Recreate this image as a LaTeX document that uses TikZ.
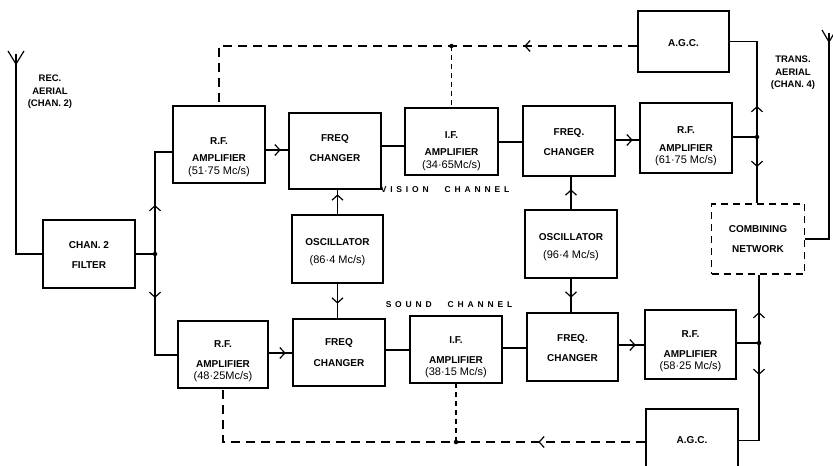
\documentclass[tikz,border=0pt]{standalone}
\usepackage{fontspec}
\setmainfont{Liberation Sans}
\usetikzlibrary{arrows.meta,decorations.markings}
\tikzset{
  box/.style={draw, line width=1.3pt, inner sep=0pt},
  dbox/.style={box, dash pattern=on 7pt off 5pt},
  txt/.style={align=center, inner sep=0pt, font=\bfseries\fontsize{10}{12.5}\selectfont},
  lbl/.style={align=center, inner sep=0pt, font=\bfseries\fontsize{9.5}{12.5}\selectfont},
  chl/.style={inner sep=0pt, font=\bfseries\fontsize{8.5}{10}\selectfont\addfontfeatures{LetterSpace=45}},
  ln/.style={line width=1.2pt},
  dln/.style={line width=1.2pt, dash pattern=on 9pt off 6pt},
  dlnb/.style={line width=1.2pt, dash pattern=on 5pt off 4pt},
  arrowat/.style={postaction={decorate}, decoration={markings, mark=at position #1 with {\arrow{Straight Barb[length=5pt,width=11pt,line width=1.2pt]}}}},
  jdot/.style={circle, fill, inner sep=0pt, minimum size=4.5pt},
}
\newcommand\mkblk[7]{%
  \node[box, minimum width=#4pt, minimum height=#5pt] (#1) at (#2,#3) {};
  \node[txt] (#1-t) at (#2,#6) {#7};}
\newcommand\fq[1]{{\mdseries\fontsize{11}{12.5}\selectfont #1}}
\begin{document}
\begin{tikzpicture}[x=1pt,y=-1pt]
\fill[white] (0,0) rectangle (833,466);
\useasboundingbox (0,0) rectangle (833,466);

% blocks
\mkblk{filt}{89}{254}{92}{68}{255}{CHAN. 2\\[7pt]FILTER}
\mkblk{rfv}{219}{144.5}{92}{77}{157}{R.F.\\[5pt]AMPLIFIER\\\fq{(51·75 Mc/s)}}
\mkblk{fcv}{335}{151}{92}{76}{148}{FREQ\\[7pt]CHANGER}
\mkblk{ifv}{451.5}{141.5}{93}{67}{151}{I.F.\\[5pt]AMPLIFIER\\\fq{(34·65Mc/s)}}
\mkblk{fcvb}{569}{141}{92}{70}{142}{FREQ.\\[7pt]CHANGER}
\mkblk{rfvb}{686}{138}{92}{70}{146.5}{R.F.\\[5pt]AMPLIFIER\\\fq{(61·75 Mc/s)}}
\mkblk{agcv}{683.5}{41.5}{91}{61}{43}{A.G.C.}
\mkblk{osca}{337.5}{249}{91}{68}{252}{OSCILLATOR\\[6pt]\fq{(86·4 Mc/s)}}
\mkblk{oscb}{571}{244}{92}{68}{247}{OSCILLATOR\\[6pt]\fq{(96·4 Mc/s)}}
\mkblk{rfs}{223}{354.5}{90}{67}{361.5}{R.F.\\[7pt]AMPLIFIER\\\fq{(48·25Mc/s)}}
\mkblk{fcs}{339}{352.5}{92}{67}{352.5}{FREQ\\[8pt]CHANGER}
\mkblk{ifs}{456}{349.5}{92}{67}{357.5}{I.F.\\[7pt]AMPLIFIER\\\fq{(38·15 Mc/s)}}
\mkblk{fcsb}{572.5}{347}{91}{68}{348}{FREQ.\\[7pt]CHANGER}
\mkblk{rfsb}{690.5}{344.5}{91}{69}{351.5}{R.F.\\[7pt]AMPLIFIER\\\fq{(58·25 Mc/s)}}
\mkblk{agcs}{692}{440.5}{92}{63}{440}{A.G.C.}
\node[dbox, minimum width=93pt, minimum height=70pt] (comb) at (758,239) {};
\node[txt] (comb-t) at (758,239) {COMBINING\\[7pt]NETWORK};

% labels
\node[lbl] (rec) at (50,92) {REC.\\AERIAL\\(CHAN. 2)};
\node[lbl] (trans) at (793,73) {TRANS.\\AERIAL\\(CHAN. 4)};
\node[chl] (vis) at (445,190) {VISION\hspace{16pt}CHANNEL};
\node[chl] (snd) at (449,305) {SOUND\hspace{16pt}CHANNEL};

% receiving aerial
\coordinate (rant) at (16,64);
\draw[ln] (rant) ++(-8,-13) -- (rant) -- ++(8,-13);
\draw[ln] (rant) -- ++(0,-10);
\draw[ln] (rant) |- (filt.west);

% filter junction
\coordinate (j1) at (155,254);
\coordinate (a1) at (155,152);
\coordinate (a2) at (155,355);
\draw[ln] (filt.east) -- (j1);
\draw[ln, arrowat=49pt] (j1) -- (a1) -- (rfv.west |- a1);
\draw[ln, arrowat=44pt] (j1) -- (a2) -- (rfs.west |- a2);

% vision chain
\coordinate (h1) at (0,150);
\coordinate (h2) at (0,146);
\coordinate (h3) at (0,142);
\coordinate (h4) at (0,140);
\draw[ln, arrowat=15pt] (rfv.east |- h1) -- (fcv.west |- h1);
\draw[ln] (fcv.east |- h2) -- (ifv.west |- h2);
\draw[ln] (ifv.east |- h3) -- (fcvb.west |- h3);
\draw[ln, arrowat=17pt] (fcvb.east |- h4) -- (rfvb.west |- h4);

% sound chain
\coordinate (k1) at (0,353);
\coordinate (k2) at (0,350);
\coordinate (k3) at (0,348);
\coordinate (k4) at (0,345);
\draw[ln, arrowat=17pt] (rfs.east |- k1) -- (fcs.west |- k1);
\draw[ln] (fcs.east |- k2) -- (ifs.west |- k2);
\draw[ln] (ifs.east |- k3) -- (fcsb.west |- k3);
\draw[ln, arrowat=17pt] (fcsb.east |- k4) -- (rfsb.west |- k4);

% oscillators
\draw[ln, arrowat=20pt] (osca.north) -- (osca.north |- fcv.south);
\draw[ln, arrowat=20pt] (osca.south) -- (osca.south |- fcs.north);
\draw[ln, arrowat=20pt] (oscb.north) -- (oscb.north |- fcvb.south);
\draw[ln, arrowat=19pt] (oscb.south) -- (oscb.south |- fcsb.north);

% right side, vision
\coordinate (jv) at (757,137);
\draw[ln] (rfvb.east |- jv) -- (jv);
\draw[ln, arrowat=31pt] (jv) -- (jv |- agcv.east) -- (agcv.east);
\draw[ln, arrowat=30pt] (jv) -- (jv |- comb.north);

% right side, sound
\coordinate (js) at (759,343);
\draw[ln] (rfsb.east |- js) -- (js);
\draw[ln, arrowat=31pt] (js) -- (js |- comb.south);
\draw[ln, arrowat=32pt] (js) -- (js |- agcs.east) -- (agcs.east);

% transmitting aerial
\coordinate (tant) at (829,42);
\draw[ln] (tant) ++(-7,-12) -- (tant) -- ++(7,-12);
\draw[ln] (tant) -- ++(0,-9);
\draw[ln] (tant) |- (comb.east);

% AGC dashed loops
\coordinate (dy) at (0,46);
\path (ifv.north |- dy) coordinate (dt);
\draw[dln, arrowat=113pt] (agcv.west |- dt) -- (dt) -- (rfv.north |- dt) -- (rfv.north);
\draw[dlnb] (dt) -- (ifv.north);
\coordinate (dyb) at (0,442);
\path (ifs.south |- dyb) coordinate (ds);
\draw[dln, arrowat=107pt] (agcs.west |- ds) -- (ds) -- (rfs.south |- ds) -- (rfs.south);
\draw[dlnb] (ds) -- (ifs.south);

% junction dots
\foreach \p in {j1,jv,js,dt,ds} \node[jdot] at (\p) {};
\end{tikzpicture}
\end{document}
